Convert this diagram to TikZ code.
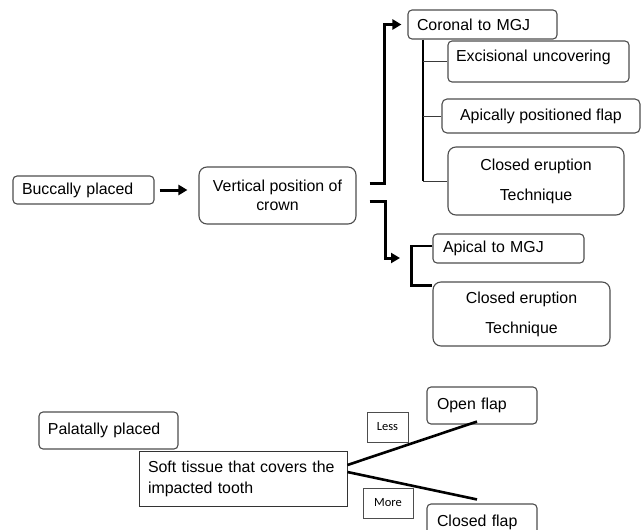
\documentclass[tikz,border=0pt]{standalone}
\usepackage{fontspec}
\setmainfont{Liberation Sans}
\newfontfamily\tagfont{Carlito}
\usepackage{tikz}
\usetikzlibrary{arrows.meta}
\definecolor{boxgray}{HTML}{4D4D4D}
\definecolor{twiggray}{HTML}{3A3A3A}
\newcommand{\boxfont}{\fontsize{15.9}{19}\selectfont}
\newcommand{\tallfont}{\fontsize{15.9}{30}\selectfont}
\newcommand{\softfont}{\fontsize{15.9}{21}\selectfont}
\tikzstyle{lbox}=[draw=boxgray, line width=1.1pt, rounded corners=4pt, inner xsep=9pt, inner ysep=0pt, align=left, font=\boxfont]
\tikzstyle{cbox}=[draw=boxgray, line width=1.1pt, rounded corners=8pt, inner sep=0pt, align=center, font=\boxfont]
\tikzstyle{tag}=[draw=boxgray, line width=0.9pt, inner sep=0pt, font=\tagfont\fontsize{12.5}{14}\selectfont]
\tikzstyle{heavy}=[line width=3pt]
\tikzstyle{headed}=[-{Triangle[length=9pt,width=10pt]}]
\tikzstyle{bar}=[line width=2.5pt]
\tikzstyle{midbar}=[line width=2.2pt]
\tikzstyle{twig}=[line width=0.9pt, draw=twiggray]

\begin{document}
\begin{tikzpicture}[x=1pt,y=-1pt]
    \useasboundingbox (0,0) rectangle (641,530);
    \clip (0,0) rectangle (641,530);
% buccal side
    \node[lbox, text width=123pt, minimum height=28pt] (buccal) at (83.5,190) {Buccally placed};
    \node[cbox, minimum width=157pt, minimum height=57pt] (vpos) at (277.5,195.5) {Vertical position of\\crown};
    \node[lbox, text width=131pt, minimum height=29pt] (coronal) at (482.5,24.5) {Coronal to MGJ};
    \node[lbox, inner xsep=8pt, text width=165pt, minimum height=41pt, text height=11.5pt, text depth=11.1pt] (excis) at (538.5,61.5) {Excisional uncovering};
    \node[cbox, rounded corners=5pt, minimum width=198pt, minimum height=34pt] (apflap) at (541,116) {Apically positioned flap};
    \node[cbox, minimum width=176pt, minimum height=68pt, font=\tallfont] (closedA) at (536,181) {Closed eruption\\Technique};
    \node[lbox, inner xsep=10pt, text width=131pt, minimum height=29pt] (apical) at (508.5,248.5) {Apical to MGJ};
    \node[cbox, minimum width=177pt, minimum height=64pt, font=\tallfont] (closedB) at (521.5,314) {Closed eruption\\Technique};

    \draw[heavy, headed, shorten <=5pt, shorten >=11pt] (buccal.east) -- (buccal.east -| vpos.west);
    \coordinate (vup) at ([xshift=13pt,yshift=12.5pt]vpos.east);
    \coordinate (vdown) at ([xshift=13pt,yshift=-5.5pt]vpos.east);
    \coordinate (ajoin) at (412,258);
    \draw[heavy, headed, shorten >=6pt] (vup) -- ++(15,0) |- (coronal.west);
    \draw[heavy, headed, shorten >=12pt] (vdown) -- ++(16,0) |- (ajoin);

    \coordinate (cbar) at ([xshift=-59.5pt]coronal.south);
    \draw[bar] (cbar) -- (cbar |- closedA.west);
    \foreach \n in {excis,apflap,closedA}
        \draw[twig] (\n.west) -- (\n.west -| cbar);
    \draw[midbar] ([yshift=2.5pt]apical.west) -- ++(-21,0) |- ([yshift=-4pt]closedB.north west);

% palatal side
    \node[lbox, text width=121pt, minimum height=37pt] (palatal) at (108.5,430.5) {Palatally placed};
    \node[lbox, sharp corners, line width=0.9pt, draw=black!80, text width=190pt, minimum height=55pt, font=\softfont] (soft) at (243,478.5) {Soft tissue that covers the\\impacted tooth};
    \node[lbox, inner xsep=10pt, text width=90pt, minimum height=37pt] (openf) at (482,405.5) {Open flap};
    \node[lbox, inner xsep=10pt, text width=90pt, minimum height=37pt] (closedf) at (482,522.5) {Closed flap};
    \node[tag, minimum width=41pt, minimum height=30pt] (less) at (387.5,427) {Less};
    \node[tag, minimum width=50pt, minimum height=30pt] (more) at (388,503) {More};

    \draw[heavy, line width=2.6pt] ([yshift=13.5pt]soft.east) -- ([xshift=-5pt,yshift=3pt]openf.south);
    \draw[heavy, line width=2.6pt] ([yshift=6.5pt]soft.east) -- ([xshift=-5pt,yshift=4pt]closedf.north);
\end{tikzpicture}
\end{document}
